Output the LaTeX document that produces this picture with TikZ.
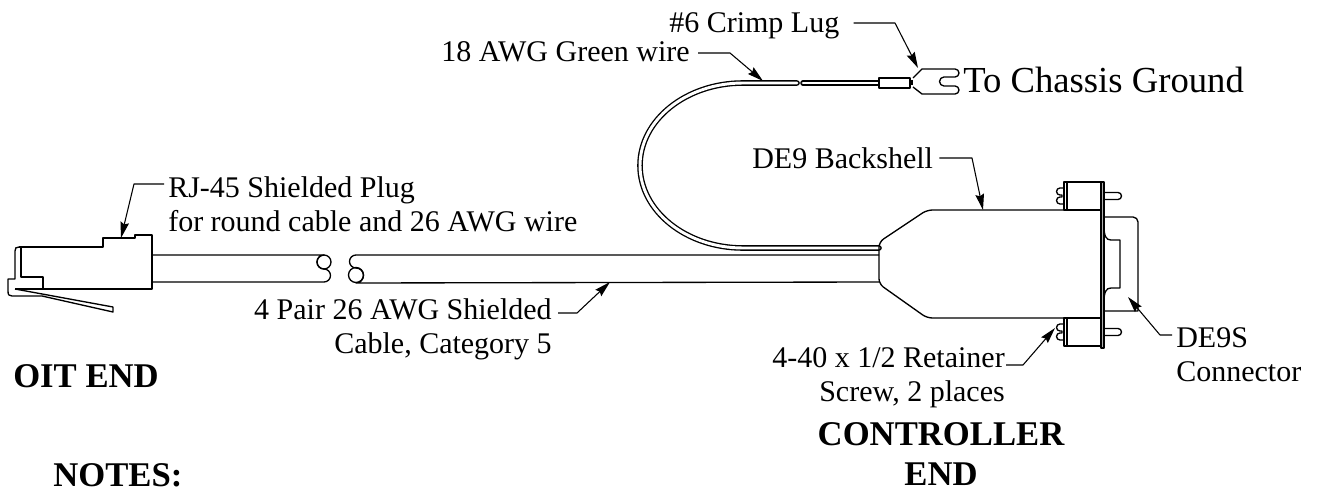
\documentclass[tikz,border=0pt]{standalone}
\usepackage{fontspec}
\setmainfont{Liberation Serif}
\usetikzlibrary{positioning}
\usetikzlibrary{arrows.meta}
\tikzset{part/.style={draw,line width=1pt},
  wire/.style={double,double distance=2.2pt,line width=1pt,line cap=round},
  callout/.style={font=\fontsize{22.5}{26}\selectfont,inner sep=0pt},
  title text/.style={font=\fontsize{26}{30}\selectfont\bfseries,inner sep=0pt},
  lead/.style={draw,line width=0.8pt,-{Stealth[length=12pt,width=6.5pt,inset=1.5pt]}},}

\begin{document}
\begin{tikzpicture}[x=0.75pt, y=-0.75pt, line join=round]
	\useasboundingbox (0,0) rectangle (1327,492);

	% RJ-45 plug
	\draw[part] (19,247) -- (103,247) -- (103,238) -- (135,238) -- (135,235) -- (152,235) -- (152,289) -- (15,289);
	\draw[part] (19,247) .. controls (16,247) and (15,248) .. (15,251) -- (15,279) -- (8,279) -- (8,291)
	    .. controls (8,295) and (9,296) .. (12,296) -- (42,296) -- (113,312) -- (113,307) -- (15,289);
	\draw[part] (21,247) -- (21,277) -- (43,277) -- (43,289);

	% shielded cable, left piece
	\draw[part] (152,255) -- (324,255) arc[start angle=-90,end angle=-270,radius=7]
	    arc[start angle=-90,end angle=90,radius=6.5] -- (152,282);
	\draw[part] (324,262) circle[radius=7];
	% shielded cable, right piece
	\draw[part] (879,255) -- (356,255) arc[start angle=-90,end angle=-270,radius=6.5]
	    arc[start angle=-90,end angle=90,radius=7.5] -- (879,282);
	\draw[part] (356,275) circle[radius=7.5];

	% green wire and lug
	\draw[wire] (879,248) -- (743,248) arc[start angle=90,end angle=270,x radius=103,y radius=82.5] -- (797,83);
	\draw[wire] (803,83) -- (879,83);
	\draw[part,fill=white] (879,78) rectangle (910,88);
	\fill (909,80) rectangle (913,85);
	\draw[part] (913,78) -- (922,69) -- (955,69) arc[start angle=-90,end angle=90,radius=4] -- (944,77)
	    arc[start angle=-90,end angle=-270,radius=4.5] -- (955,86) arc[start angle=-90,end angle=90,radius=4]
	    -- (922,94) -- (913,87);

	% DE9 backshell and connector
	\draw[part,rounded corners=4] (1064,210) -- (927,210) -- (879,242) -- (879,284) -- (927,318) -- (1064,318);
	\foreach \sy in {196,332} {
	    \draw[part] (1064,\sy-14) rectangle (1101,\sy+14);
	    \draw[part] (1067,\sy-14) -- (1067,\sy+14);
	    \draw[part] (1064,\sy-8) -- (1060,\sy-8) arc[start angle=-90,end angle=-270,radius=3.5] -- (1062,\sy-1)
	        -- (1062,\sy+1) -- (1060,\sy+1) arc[start angle=-90,end angle=-270,radius=3.5] -- (1064,\sy+8);
	    \draw[part] (1104,\sy-3.5) -- (1118,\sy-3.5) arc[start angle=-90,end angle=90,radius=3.5] -- (1104,\sy+3.5);
	}
	\draw[part] (1104,311) -- (1138,311) -- (1138,222) arc[start angle=0,end angle=-90,radius=5] -- (1104,217);
	\draw[part] (1104,226) .. controls (1104,236) and (1106,240) .. (1111,240) -- (1120,240) -- (1120,288)
	    -- (1111,288) .. controls (1106,288) and (1104,292) .. (1104,302);
	\filldraw[fill=gray!60,line width=0.8pt] (1101,182) rectangle (1104,348);

	% callouts
	\node[callout,anchor=north west,align=left] (rjlbl) at (168,176) {RJ-45 Shielded Plug\\for round cable and 26 AWG wire};
	\coordinate (rjfrom) at ([shift={(-4,8)}]rjlbl.north west);
	\coordinate (rjbend) at (134,184);
	\coordinate (rjtip) at (121,238);
	\draw[lead] (rjfrom) -- (rjbend) -- (rjtip);

	\node[callout,anchor=base east] (wirelbl) at (690,61) {18 AWG Green wire};
	\coordinate (wirefrom) at ([shift={(8,-8)}]wirelbl.base east);
	\coordinate (wirebend) at (730,53);
	\coordinate (wiretip) at (763,81);
	\draw[lead] (wirefrom) -- (wirebend) -- (wiretip);

	\node[callout,anchor=base west] (luglbl) at (669,33) {\#6 Crimp Lug};
	\coordinate (lugfrom) at ([shift={(14,-10)}]luglbl.base east);
	\coordinate (lugbend) at (895,23);
	\coordinate (lugtip) at (918,68);
	\draw[lead] (lugfrom) -- (lugbend) -- (lugtip);

	\node[callout,font=\fontsize{27.5}{32}\selectfont,anchor=base west] (gndlbl) at (963,93) {To Chassis Ground};

	\node[callout,anchor=base west] (shelllbl) at (752,168) {DE9 Backshell};
	\coordinate (shellfrom) at ([shift={(6,-10)}]shelllbl.base east);
	\coordinate (shellbend) at (972,158);
	\coordinate (shelltip) at (983,210);
	\draw[lead] (shellfrom) -- (shellbend) -- (shelltip);

	\node[callout,anchor=north east,align=right] (cablelbl) at (552,298) {4 Pair 26 AWG Shielded\\Cable, Category 5};
	\coordinate (cablefrom) at ([shift={(6,15)}]cablelbl.north east);
	\coordinate (cablebend) at (577,313);
	\coordinate (cabletip) at (610,282);
	\draw[lead] (cablefrom) -- (cablebend) -- (cabletip);

	\node[callout,anchor=north east,align=right] (screwlbl) at (1005,347) {4-40 x 1/2 Retainer\\Screw, 2 places};
	\coordinate (screwfrom) at ([shift={(1,18)}]screwlbl.north east);
	\coordinate (screwbend) at (1023,365);
	\coordinate (screwtip) at (1055,328);
	\draw[lead] (screwfrom) -- (screwbend) -- (screwtip);

	\node[callout,anchor=north west,align=left] (connlbl) at (1176,327) {DE9S\\Connector};
	\coordinate (connfrom) at ([shift={(-4,8)}]connlbl.north west);
	\coordinate (connbend) at (1160,335);
	\coordinate (conntip) at (1128,297);
	\draw[lead] (connfrom) -- (connbend) -- (conntip);

	\node[title text,anchor=base west] (oitend) at (13,387) {OIT END};
	\node[title text,anchor=north,align=center] (ctrlend) at (941,422) {CONTROLLER\\END};
	\node[title text,anchor=base west] (notes) at (53,486) {NOTES:};
\end{tikzpicture}
\end{document}
